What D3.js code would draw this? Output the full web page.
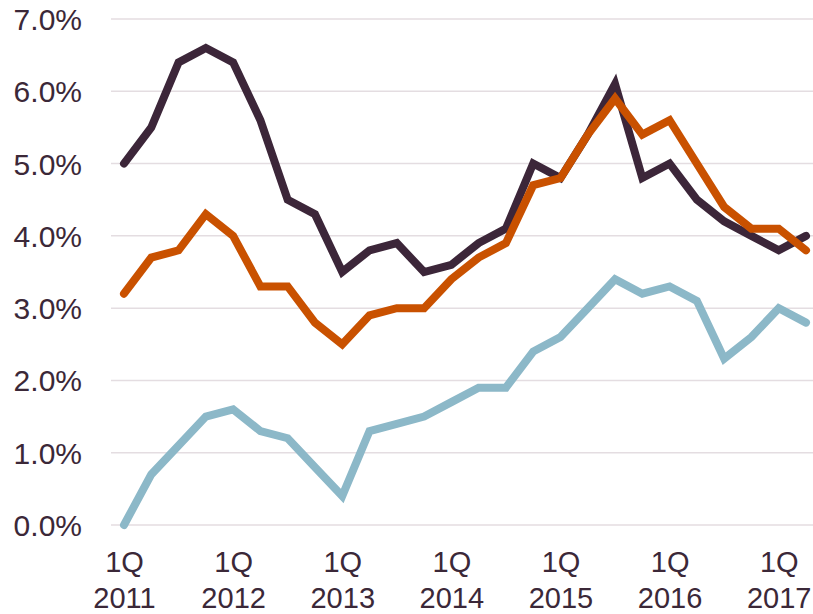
<!DOCTYPE html>
<html>
<head>
<meta charset="utf-8">
<script src="https://cdn.jsdelivr.net/npm/d3@7"></script>
<style>
  html, body { margin: 0; padding: 0; background: #fff; }
  svg { display: block; }
  text { font-family: "Liberation Sans", Arial, sans-serif; fill: #3b2838; }
</style>
</head>
<body>
<svg id="chart" width="813" height="614"></svg>
<script>
const quarters = [
  "1Q 2011","2Q 2011","3Q 2011","4Q 2011",
  "1Q 2012","2Q 2012","3Q 2012","4Q 2012",
  "1Q 2013","2Q 2013","3Q 2013","4Q 2013",
  "1Q 2014","2Q 2014","3Q 2014","4Q 2014",
  "1Q 2015","2Q 2015","3Q 2015","4Q 2015",
  "1Q 2016","2Q 2016","3Q 2016","4Q 2016",
  "1Q 2017","2Q 2017"
];
const seriesDark   = [5.0,5.5,6.4,6.6,6.4,5.6,4.5,4.3,3.5,3.8,3.9,3.5,3.6,3.9,4.1,5.0,4.8,5.4,6.1,4.8,5.0,4.5,4.2,4.0,3.8,4.0];
const seriesOrange = [3.2,3.7,3.8,4.3,4.0,3.3,3.3,2.8,2.5,2.9,3.0,3.0,3.4,3.7,3.9,4.7,4.8,5.4,5.9,5.4,5.6,5.0,4.4,4.1,4.1,3.8];
const seriesBlue   = [0.0,0.7,1.1,1.5,1.6,1.3,1.2,0.8,0.4,1.3,1.4,1.5,1.7,1.9,1.9,2.4,2.6,3.0,3.4,3.2,3.3,3.1,2.3,2.6,3.0,2.8];
const yTicks = [0,1,2,3,4,5,6,7];
const xTickLabels = ["1Q 2011","1Q 2012","1Q 2013","1Q 2014","1Q 2015","1Q 2016","1Q 2017"];

const series = [
  { name: "blue", values: seriesBlue, color: "#8cb8c8" },
  { name: "dark", values: seriesDark, color: "#3c2639" },
  { name: "orange", values: seriesOrange, color: "#c95100" }
];

const svg = d3.select("#chart");
const gridLeft = 111, gridRight = 813;

const x = d3.scalePoint().domain(quarters).range([124, 806]);
const y = d3.scaleLinear().domain([0, 7]).range([525, 19]);

// gridlines
svg.append("g").selectAll("line").data(yTicks).join("line")
  .attr("x1", gridLeft).attr("x2", gridRight)
  .attr("y1", d => y(d)).attr("y2", d => y(d))
  .attr("stroke", "#e4dde1").attr("stroke-width", 1.5);

// y axis labels
const yAxis = d3.axisLeft(y).tickValues(yTicks).tickFormat(d => d.toFixed(1) + "%").tickSize(0).tickPadding(0);
const gy = svg.append("g").attr("transform", "translate(82,0)").call(yAxis);
gy.select(".domain").remove();
gy.selectAll("text").attr("font-size", 30).attr("font-family", "Liberation Sans, Arial, sans-serif")
  .attr("fill", "#3b2838").attr("dy", "0.35em").attr("x", 0);

// x axis labels (two lines)
const xAxis = d3.axisBottom(x).tickValues(xTickLabels).tickSize(0).tickFormat("");
const gx = svg.append("g").attr("transform", "translate(0,525)").call(xAxis);
gx.select(".domain").remove();
gx.selectAll(".tick").each(function(d) {
  const parts = d.split(" ");
  const t = d3.select(this).select("text")
    .attr("font-size", 29).attr("font-family", "Liberation Sans, Arial, sans-serif")
    .attr("fill", "#3b2838").attr("text-anchor", "middle").attr("y", 0).attr("dy", null).text(null);
  t.append("tspan").attr("x", 0).attr("y", 47).text(parts[0]);
  t.append("tspan").attr("x", 0).attr("y", 83).text(parts[1]);
});

// lines
const line = d3.line().x((d, i) => x(quarters[i])).y(d => y(d));
svg.append("g").selectAll("path").data(series).join("path")
  .attr("d", d => line(d.values))
  .attr("fill", "none")
  .attr("stroke", d => d.color)
  .attr("stroke-width", 8)
  .attr("stroke-linejoin", "miter")
  .attr("stroke-linecap", "round");
</script>
</body>
</html>
